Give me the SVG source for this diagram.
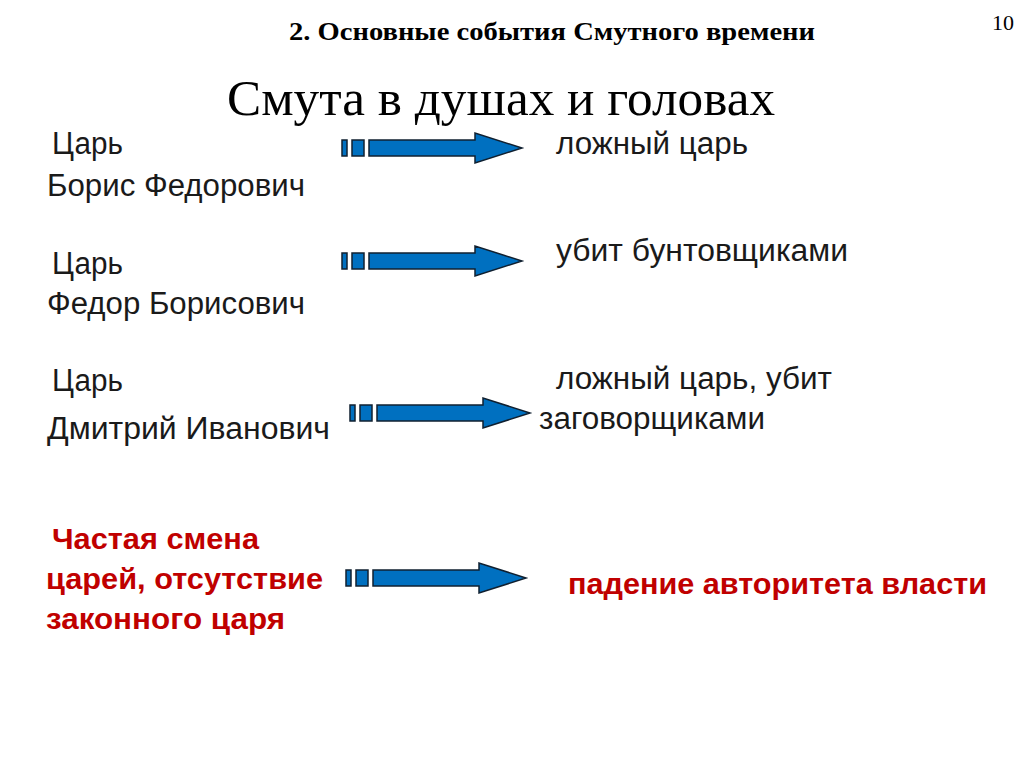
<svg xmlns="http://www.w3.org/2000/svg" xmlns:xlink="http://www.w3.org/1999/xlink" width="1024" height="767" viewBox="0 0 1024 767">
<style>
.t{font-family:"Liberation Sans",Arial,sans-serif;font-size:31px;fill:#1a1a1a}
.r{font-family:"Liberation Sans",Arial,sans-serif;font-size:29px;font-weight:bold;fill:#c00000}
.s{font-family:"Liberation Serif","Times New Roman",serif;fill:#000}
.a{fill:#0070c0;stroke:#102030;stroke-width:1.5}
</style>
<defs>
<g id="arr">
<rect class="a" x="342" y="-8" width="5" height="16"/>
<rect class="a" x="352" y="-8" width="12" height="16"/>
<path class="a" d="M369,-8 H475 V-15 L522,0 L475,15 V8 H369 Z"/>
</g>
</defs>
<rect width="1024" height="767" fill="#fff"/>
<text class="s" x="289" y="40" font-size="25" font-weight="bold" textLength="526" lengthAdjust="spacingAndGlyphs">2. Основные события Смутного времени</text>
<text class="s" x="1003" y="30" font-size="22" text-anchor="middle">10</text>
<text class="s" x="227" y="115" font-size="50" textLength="548" lengthAdjust="spacingAndGlyphs">Смута в душах и головах</text>
<g id="n1"><text class="t" x="52" y="154" textLength="71" lengthAdjust="spacingAndGlyphs">Царь</text><text class="t" x="47" y="196" textLength="258" lengthAdjust="spacingAndGlyphs">Борис Федорович</text></g>
<g id="n2"><text class="t" x="52" y="274" textLength="71" lengthAdjust="spacingAndGlyphs">Царь</text><text class="t" x="47" y="314" textLength="258" lengthAdjust="spacingAndGlyphs">Федор Борисович</text></g>
<g id="n3"><text class="t" x="52" y="391" textLength="71" lengthAdjust="spacingAndGlyphs">Царь</text><text class="t" x="47" y="439" textLength="283" lengthAdjust="spacingAndGlyphs">Дмитрий Иванович</text></g>
<g id="n4"><text class="r" x="52" y="549" textLength="207" lengthAdjust="spacingAndGlyphs">Частая смена</text><text class="r" x="46" y="589" textLength="277" lengthAdjust="spacingAndGlyphs">царей, отсутствие</text><text class="r" x="46" y="629" textLength="239" lengthAdjust="spacingAndGlyphs">законного царя</text></g>
<g id="m1"><text class="t" x="556" y="154" textLength="192" lengthAdjust="spacingAndGlyphs">ложный царь</text></g>
<g id="m2"><text class="t" x="556" y="261" textLength="292" lengthAdjust="spacingAndGlyphs">убит бунтовщиками</text></g>
<g id="m3"><text class="t" x="556" y="389" textLength="276" lengthAdjust="spacingAndGlyphs">ложный царь, убит</text><text class="t" x="539" y="429" textLength="226" lengthAdjust="spacingAndGlyphs">заговорщиками</text></g>
<g id="m4"><text class="r" x="568" y="594" textLength="419" lengthAdjust="spacingAndGlyphs">падение авторитета власти</text></g>
<g id="connectors">
<use xlink:href="#arr" transform="translate(0,148)"/>
<use xlink:href="#arr" transform="translate(0,261)"/>
<use xlink:href="#arr" transform="translate(8,413)"/>
<use xlink:href="#arr" transform="translate(4,578)"/>
</g>
</svg>
